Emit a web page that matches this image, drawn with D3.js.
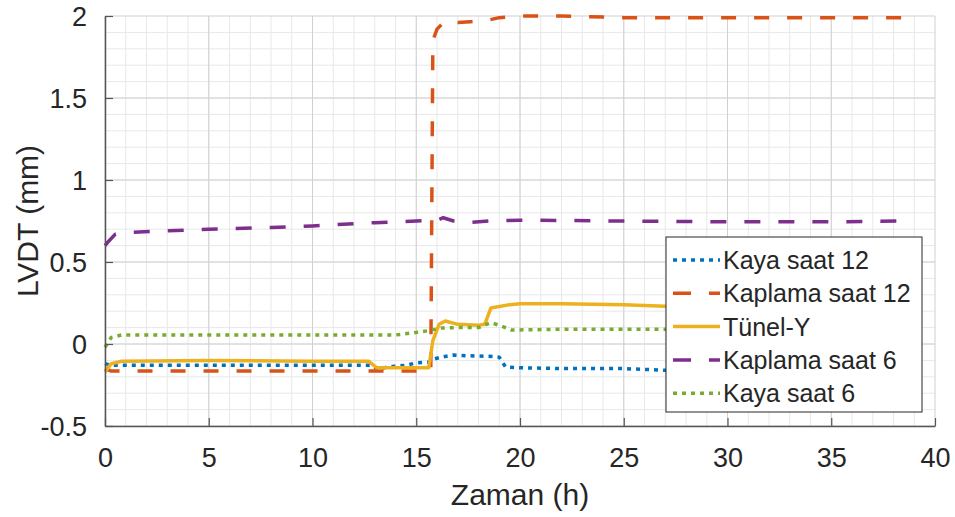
<!DOCTYPE html>
<html>
<head>
<meta charset="utf-8">
<script src="https://cdn.jsdelivr.net/npm/d3@7"></script>
<style>
  html, body { margin: 0; padding: 0; background: #fff; }
  svg { display: block; }
  text { font-family: "Liberation Sans", Arial, sans-serif; fill: #262626; }
</style>
</head>
<body>
<svg id="chart" width="955" height="517"></svg>
<script>
// Time axis (hours) and LVDT readings (mm) for each sensor
const seriesNames = ["Kaya saat 12", "Kaplama saat 12", "Tünel-Y", "Kaplama saat 6", "Kaya saat 6"];

const kaya12T = [0, 0.3, 0.8, 5, 10, 12.8, 13.2, 13.6, 14.5, 15.0, 15.7, 15.9, 16.2, 16.8, 17.5, 18.5, 19.0, 19.3, 20, 22, 25, 27, 30, 35, 38.5];
const kaya12V = [-0.12, -0.13, -0.13, -0.13, -0.13, -0.13, -0.155, -0.14, -0.13, -0.115, -0.11, -0.09, -0.08, -0.067, -0.072, -0.075, -0.08, -0.14, -0.145, -0.15, -0.15, -0.16, -0.16, -0.16, -0.16];

const kaplama12T = [0, 0.3, 5, 10, 13, 15.7, 15.8, 16.0, 16.4, 17.0, 17.6, 18.3, 19.0, 20, 22, 25, 30, 35, 38.5];
const kaplama12V = [-0.15, -0.165, -0.165, -0.165, -0.165, -0.165, 1.85, 1.92, 1.97, 1.96, 1.965, 1.97, 1.99, 2.0, 2.0, 1.99, 1.99, 1.99, 1.99];

const tunelT = [0, 0.3, 0.8, 5, 10, 12.7, 13.1, 14, 15.6, 15.8, 16.1, 16.4, 17, 18, 18.3, 18.6, 19.5, 20, 22, 25, 27, 30, 35, 38.5];
const tunelV = [-0.17, -0.12, -0.105, -0.1, -0.105, -0.105, -0.145, -0.145, -0.145, 0.02, 0.12, 0.14, 0.12, 0.115, 0.12, 0.22, 0.24, 0.245, 0.245, 0.24, 0.23, 0.23, 0.23, 0.23];

const kaplama6T = [0, 0.2, 0.5, 1, 3, 5, 8, 10, 13, 15, 16, 16.3, 16.8, 17.5, 18.5, 20, 25, 30, 35, 38.5];
const kaplama6V = [0.6, 0.63, 0.67, 0.68, 0.69, 0.7, 0.71, 0.72, 0.74, 0.75, 0.755, 0.77, 0.75, 0.74, 0.75, 0.755, 0.75, 0.745, 0.745, 0.75];

const kaya6T = [0, 0.3, 0.8, 5, 10, 14, 14.8, 15.5, 16.2, 17, 18, 18.6, 19.1, 19.6, 22, 25, 27, 30, 35, 38.5];
const kaya6V = [-0.02, 0.04, 0.055, 0.055, 0.055, 0.055, 0.067, 0.08, 0.097, 0.1, 0.1, 0.13, 0.11, 0.085, 0.09, 0.09, 0.09, 0.09, 0.09, 0.09];

const xTicks = [0, 5, 10, 15, 20, 25, 30, 35, 40];
const yTicks = [-0.5, 0, 0.5, 1, 1.5, 2];
const yTickLabels = ["-0.5", "0", "0.5", "1", "1.5", "2"];

// MATLAB default colour order
const colors = ["#0072BD", "#D95319", "#EDB120", "#7E2F8E", "#77AC30"];
const dashes = ["4,5", "15,18", null, "16,18", "4,5"];

const series = [
  { name: seriesNames[0], t: kaya12T, v: kaya12V },
  { name: seriesNames[1], t: kaplama12T, v: kaplama12V },
  { name: seriesNames[2], t: tunelT, v: tunelV },
  { name: seriesNames[3], t: kaplama6T, v: kaplama6V },
  { name: seriesNames[4], t: kaya6T, v: kaya6V }
];

const svg = d3.select("#chart");
const L = 105, R = 935, T = 16, B = 426;

const x = d3.scaleLinear().domain([0, 40]).range([L, R]);
const y = d3.scaleLinear().domain([-0.5, 2]).range([B, T]);

// Minor grid
const grid = svg.append("g");
grid.selectAll(".vx").data(d3.range(1, 40)).enter().append("line")
  .attr("x1", d => x(d)).attr("x2", d => x(d)).attr("y1", T).attr("y2", B)
  .attr("stroke", "#e8e8e8").attr("stroke-width", 1);
grid.selectAll(".hy").data(d3.range(-4, 20).map(d => d / 10)).enter().append("line")
  .attr("y1", d => y(d)).attr("y2", d => y(d)).attr("x1", L).attr("x2", R)
  .attr("stroke", "#e8e8e8").attr("stroke-width", 1);
// Major grid
grid.selectAll(".mx").data(xTicks).enter().append("line")
  .attr("x1", d => x(d)).attr("x2", d => x(d)).attr("y1", T).attr("y2", B)
  .attr("stroke", "#d0d0d0").attr("stroke-width", 1);
grid.selectAll(".my").data(yTicks).enter().append("line")
  .attr("y1", d => y(d)).attr("y2", d => y(d)).attr("x1", L).attr("x2", R)
  .attr("stroke", "#d0d0d0").attr("stroke-width", 1);

// Data lines
const line = d3.line().x(d => x(d[0])).y(d => y(d[1]));
series.forEach((s, i) => {
  const pts = s.t.map((t, k) => [t, s.v[k]]);
  svg.append("path")
    .datum(pts)
    .attr("d", line)
    .attr("fill", "none")
    .attr("stroke", colors[i])
    .attr("stroke-width", 3.5)
    .attr("stroke-linejoin", "round")
    .attr("stroke-dasharray", dashes[i]);
});

// Axes
const xAxis = d3.axisBottom(x).tickValues(xTicks).tickSizeInner(-8).tickSizeOuter(0).tickPadding(22).tickFormat(d3.format("d"));
const yAxis = d3.axisLeft(y).tickValues(yTicks).tickSizeInner(-8).tickSizeOuter(0).tickPadding(18)
  .tickFormat((d, i) => yTickLabels[i]);

const gx = svg.append("g").attr("transform", `translate(0,${B})`).call(xAxis);
const gy = svg.append("g").attr("transform", `translate(${L},0)`).call(yAxis);
[gx, gy].forEach(g => {
  g.select(".domain").attr("stroke", "#555").attr("stroke-width", 1.5);
  g.selectAll(".tick line").attr("stroke", "#555").attr("stroke-width", 1.2);
  g.selectAll(".tick text").attr("font-size", 27).attr("font-family", "Liberation Sans, Arial, sans-serif").attr("fill", "#262626");
});
gy.selectAll(".tick text").attr("dy", "0.36em");

// Axis titles
svg.append("text").attr("x", x(20)).attr("y", 505)
  .attr("text-anchor", "middle").attr("font-size", 30).text("Zaman (h)");
svg.append("text").attr("transform", `translate(38,${221}) rotate(-90)`)
  .attr("text-anchor", "middle").attr("font-size", 30).text("LVDT (mm)");

// Legend
const lg = svg.append("g");
lg.append("rect").attr("x", 666).attr("y", 237).attr("width", 256).attr("height", 175)
  .attr("fill", "#fff").attr("stroke", "#262626").attr("stroke-width", 1);
const legDash = ["4,5", "18,18", null, "18,18", "4,5"];
series.forEach((s, i) => {
  const ly = 260 + i * 33.3;
  lg.append("line").attr("x1", 673).attr("x2", 720).attr("y1", ly).attr("y2", ly)
    .attr("stroke", colors[i]).attr("stroke-width", 3.5)
    .attr("stroke-dasharray", legDash[i]);
  lg.append("text").attr("x", 723).attr("y", ly).attr("dy", "0.36em")
    .attr("font-size", 25).text(s.name);
});
</script>
</body>
</html>
